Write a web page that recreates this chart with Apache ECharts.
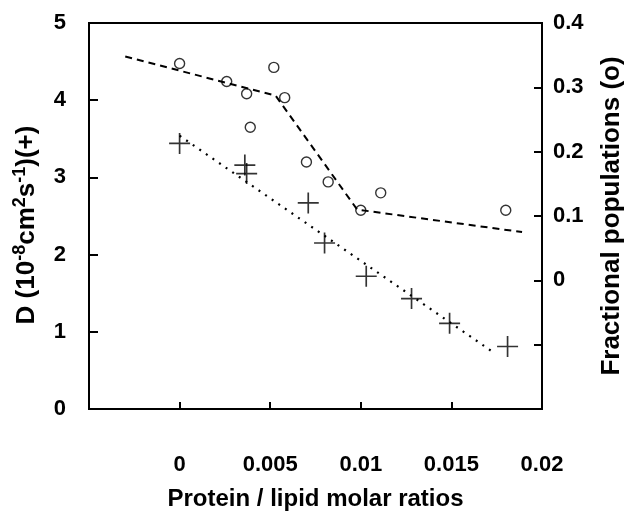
<!DOCTYPE html>
<html>
<head>
<meta charset="utf-8">
<script src="https://cdn.jsdelivr.net/npm/echarts@6/dist/echarts.min.js"></script>
<style>
  html, body { margin: 0; padding: 0; background: #fff; }
  #main { width: 642px; height: 518px; }
</style>
</head>
<body>
<div id="main"></div>
<script>
// circles: fractional populations (right axis)
const ratioCircles = [0, 0.0026, 0.0037, 0.0039, 0.0052, 0.0058, 0.0070, 0.0082, 0.0100, 0.0111, 0.0180];
const fracPop = [0.337, 0.309, 0.290, 0.238, 0.331, 0.284, 0.184, 0.153, 0.109, 0.136, 0.109];
// crosses: diffusion coefficient D (left axis)
const ratioCross = [0, 0.0036, 0.0037, 0.0071, 0.0080, 0.0103, 0.0128, 0.0149, 0.0181];
const diffD = [3.44, 3.16, 3.05, 2.67, 2.15, 1.72, 1.43, 1.11, 0.81];
// guide lines
const fitFracX = [-0.003, 0.0053, 0.0098, 0.0189];
const fitFracY = [0.348, 0.287, 0.110, 0.075];
const fitDX = [0, 0.0174];
const fitDY = [3.54, 0.72];

const font = 'Liberation Sans, Arial, sans-serif';
const zip = (xs, ys) => xs.map((x, i) => [x, ys[i]]);
const crossPath = 'path://M0,9.2H20V10.8H0Z M9.2,0H10.8V20H9.2Z';

const chart = echarts.init(document.getElementById('main'));
chart.setOption({
  animation: false,
  grid: {
    left: 89, right: 100, top: 23, bottom: 109,
    show: true, borderColor: '#000', borderWidth: 2
  },
  xAxis: {
    type: 'value', min: -0.005, max: 0.02, interval: 0.005,
    name: 'Protein / lipid molar ratios',
    nameLocation: 'middle', nameGap: 78,
    nameTextStyle: { fontFamily: font, fontWeight: 'bold', fontSize: 24, color: '#000' },
    axisLine: { onZero: false, lineStyle: { color: '#000', width: 2 } },
    axisTick: { inside: true, length: 7, lineStyle: { color: '#000', width: 2 } },
    axisLabel: {
      margin: 45, fontFamily: font, fontWeight: 'bold', fontSize: 22, color: '#000',
      formatter: v => (v < 0 ? '' : String(+v.toFixed(3)))
    },
    splitLine: { show: false }
  },
  yAxis: [
    {
      type: 'value', min: 0, max: 5, interval: 1, position: 'left',
      name: 'D (10{sup|-8}cm{sup|2}s{sup|-1})(+)',
      nameLocation: 'middle', nameGap: 46, nameRotate: 90,
      nameTextStyle: {
        fontFamily: font, fontWeight: 'bold', fontSize: 26, color: '#000',
        padding: [0, 18, 0, 0],
        rich: { sup: { fontFamily: font, fontWeight: 'bold', fontSize: 18, color: '#000', verticalAlign: 'top', padding: [0, 0, 14, 0] } }
      },
      axisLine: { show: true, onZero: false, lineStyle: { color: '#000', width: 2 } },
      axisTick: { show: true, inside: true, length: 9, lineStyle: { color: '#000', width: 2 } },
      axisLabel: { margin: 23, fontFamily: font, fontWeight: 'bold', fontSize: 22, color: '#000' },
      splitLine: { show: false }
    },
    {
      type: 'value', min: -0.2, max: 0.4, interval: 0.1, position: 'right',
      name: 'Fractional populations (o)',
      nameLocation: 'middle', nameGap: 57, nameRotate: 90,
      nameTextStyle: { fontFamily: font, fontWeight: 'bold', fontSize: 26, color: '#000' },
      axisLine: { show: true, onZero: false, lineStyle: { color: '#000', width: 2 } },
      axisTick: { show: true, inside: true, length: 8, lineStyle: { color: '#000', width: 2 } },
      axisLabel: {
        margin: 11, fontFamily: font, fontWeight: 'bold', fontSize: 22, color: '#000',
        formatter: v => (v < 0 ? '' : String(+v.toFixed(1)))
      },
      splitLine: { show: false }
    }
  ],
  series: [
    {
      type: 'line', yAxisIndex: 1, data: zip(fitFracX, fitFracY),
      symbol: 'none', lineStyle: { color: '#000', width: 2, type: [7, 5] }, z: 1
    },
    {
      type: 'line', yAxisIndex: 0, data: zip(fitDX, fitDY),
      symbol: 'none', lineStyle: { color: '#000', width: 2.2, type: [2, 6] }, z: 1
    },
    {
      type: 'scatter', yAxisIndex: 1, data: zip(ratioCircles, fracPop),
      symbol: 'circle', symbolSize: 10,
      itemStyle: { color: 'rgba(255,255,255,0)', borderColor: '#000', borderWidth: 1.4 }, z: 2
    },
    {
      type: 'scatter', yAxisIndex: 0, data: zip(ratioCross, diffD),
      symbol: crossPath, symbolSize: 21,
      itemStyle: { color: '#000' }, z: 2
    }
  ]
});
</script>
</body>
</html>
